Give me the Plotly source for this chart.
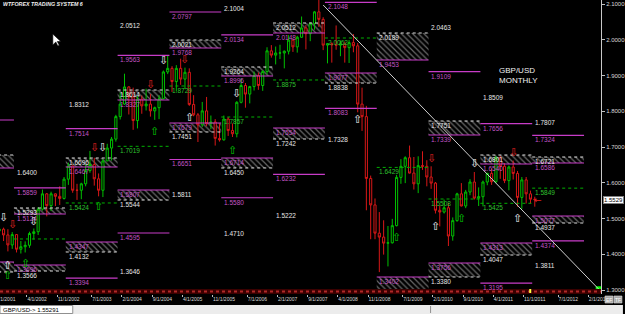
import pandas as pd
import plotly.graph_objects as go

# ---------------- data ----------------
months = [p.strftime("%Y-%m") for p in pd.period_range("2001-09", "2012-01", freq="M")]

opens = [1.4655, 1.4700, 1.4540, 1.4260,
         1.4550, 1.4140, 1.4210, 1.4250, 1.4580, 1.4630, 1.5260, 1.5690, 1.5360, 1.5690, 1.5620, 1.5560,
         1.6100, 1.6470, 1.5790, 1.5790, 1.5970, 1.6340, 1.6510, 1.6110, 1.5790, 1.6610, 1.6970, 1.7220,
         1.7850, 1.8200, 1.8680, 1.8400, 1.7740, 1.8340, 1.8150, 1.8200, 1.8010, 1.8100, 1.8350, 1.9100,
         1.9200, 1.8830, 1.9200, 1.8900, 1.9090, 1.8190, 1.7900, 1.7620, 1.8010, 1.7650, 1.7700, 1.7240,
         1.7200, 1.7780, 1.7460, 1.7370, 1.8250, 1.8720, 1.8480, 1.8690, 1.9000, 1.8720, 1.9110, 1.9690,
         1.9570, 1.9630, 1.9630, 1.9680, 1.9990, 1.9800, 2.0070, 2.0330, 2.0170, 2.0450, 2.0780, 2.0570,
         1.9850, 1.9890, 1.9860, 1.9850, 1.9880, 1.9780, 1.9920, 1.9830, 1.8200, 1.7850, 1.6120, 1.5380,
         1.4590, 1.4480, 1.4310, 1.4320, 1.4800, 1.6150, 1.6460, 1.6700, 1.6270, 1.5970, 1.6480, 1.6460,
         1.6160, 1.5990, 1.5230, 1.5180, 1.5300, 1.4510, 1.4940, 1.5690, 1.5350, 1.5740, 1.6020, 1.5570,
         1.5610, 1.6020, 1.6260, 1.6030, 1.6700, 1.6460, 1.6060, 1.6440, 1.6260, 1.5590, 1.6080, 1.5690,
         1.5540]
highs = [1.4840, 1.4745, 1.4700, 1.4620,
         1.4560, 1.4370, 1.4360, 1.4630, 1.4720, 1.5320, 1.5810, 1.5710, 1.5750, 1.5700, 1.5900, 1.6160,
         1.6560, 1.6480, 1.5970, 1.6000, 1.6500, 1.6890, 1.6700, 1.6260, 1.6660, 1.7090, 1.7280, 1.7900,
         1.8520, 1.9050, 1.8700, 1.8660, 1.8420, 1.8440, 1.8630, 1.8480, 1.8130, 1.8450, 1.9140, 1.9550,
         1.9260, 1.9290, 1.9470, 1.9220, 1.9200, 1.8450, 1.7950, 1.8260, 1.8400, 1.7880, 1.7780, 1.7650,
         1.7880, 1.7840, 1.7660, 1.8280, 1.8920, 1.8790, 1.8710, 1.9110, 1.9080, 1.9150, 1.9790, 1.9850,
         1.9810, 1.9860, 1.9700, 2.0130, 2.0010, 2.0110, 2.0650, 2.0410, 2.0490, 2.0800, 2.1160, 2.0630,
         1.9910, 1.9930, 2.0400, 1.9980, 1.9950, 1.9990, 2.0160, 1.9910, 1.8660, 1.8150, 1.6200, 1.5560,
         1.5180, 1.4950, 1.4790, 1.4990, 1.6220, 1.6660, 1.6740, 1.7040, 1.6720, 1.6740, 1.6880, 1.6630,
         1.6460, 1.6020, 1.5370, 1.5530, 1.5430, 1.5030, 1.5720, 1.5990, 1.5800, 1.6100, 1.6300, 1.5870,
         1.6060, 1.6280, 1.6400, 1.6750, 1.6750, 1.6550, 1.6480, 1.6620, 1.6330, 1.6160, 1.6160, 1.5780,
         1.5610]
lows = [1.4360, 1.4370, 1.4080, 1.4150,
        1.4050, 1.4020, 1.4050, 1.4180, 1.4410, 1.4540, 1.5220, 1.5060, 1.5210, 1.5350, 1.5380, 1.5530,
        1.5940, 1.5720, 1.5520, 1.5540, 1.5900, 1.6280, 1.5920, 1.5620, 1.5600, 1.6610, 1.6620, 1.7150,
        1.7770, 1.8180, 1.7910, 1.7480, 1.7520, 1.7930, 1.8020, 1.7850, 1.7760, 1.7780, 1.8330, 1.9040,
        1.8540, 1.8550, 1.8740, 1.8620, 1.8150, 1.7860, 1.7140, 1.7560, 1.7580, 1.7500, 1.7040, 1.7150,
        1.7180, 1.7310, 1.7280, 1.7270, 1.8220, 1.8100, 1.8220, 1.8580, 1.8600, 1.8570, 1.9030, 1.9500,
        1.9310, 1.9460, 1.9200, 1.9590, 1.9660, 1.9640, 2.0050, 1.9730, 1.9960, 2.0280, 2.0360, 1.9710,
        1.9340, 1.9360, 1.9720, 1.9540, 1.9360, 1.9350, 1.9650, 1.7970, 1.7450, 1.5230, 1.4420, 1.4420,
        1.3500, 1.3990, 1.3660, 1.4300, 1.4780, 1.5970, 1.5990, 1.6260, 1.5810, 1.5710, 1.6360, 1.5900,
        1.5830, 1.5140, 1.4780, 1.5140, 1.4230, 1.4380, 1.4910, 1.5340, 1.5290, 1.5650, 1.5530, 1.5350,
        1.5340, 1.5930, 1.5940, 1.5990, 1.6110, 1.5990, 1.5790, 1.6090, 1.5330, 1.5270, 1.5420, 1.5420,
        1.5330]
closes = [1.4700, 1.4540, 1.4260, 1.4550,
          1.4140, 1.4210, 1.4250, 1.4580, 1.4630, 1.5260, 1.5690, 1.5360, 1.5690, 1.5620, 1.5560, 1.6100,
          1.6470, 1.5790, 1.5790, 1.5970, 1.6340, 1.6510, 1.6110, 1.5790, 1.6610, 1.6970, 1.7220, 1.7850,
          1.8200, 1.8680, 1.8400, 1.7740, 1.8340, 1.8150, 1.8200, 1.8010, 1.8100, 1.8350, 1.9100, 1.9200,
          1.8830, 1.9200, 1.8900, 1.9090, 1.8190, 1.7900, 1.7620, 1.8010, 1.7650, 1.7700, 1.7240, 1.7200,
          1.7780, 1.7460, 1.7370, 1.8250, 1.8720, 1.8480, 1.8690, 1.9000, 1.8720, 1.9110, 1.9690, 1.9570,
          1.9630, 1.9630, 1.9680, 1.9990, 1.9800, 2.0070, 2.0330, 2.0170, 2.0450, 2.0780, 2.0570, 1.9850,
          1.9890, 1.9860, 1.9850, 1.9880, 1.9780, 1.9920, 1.9830, 1.8200, 1.7850, 1.6120, 1.5380, 1.4590,
          1.4480, 1.4310, 1.4320, 1.4800, 1.6150, 1.6460, 1.6700, 1.6270, 1.5970, 1.6480, 1.6460, 1.6160,
          1.5990, 1.5230, 1.5180, 1.5300, 1.4510, 1.4940, 1.5690, 1.5350, 1.5740, 1.6020, 1.5570, 1.5610,
          1.6020, 1.6260, 1.6030, 1.6700, 1.6460, 1.6060, 1.6440, 1.6260, 1.5590, 1.6080, 1.5690, 1.5540,
          1.5529]

# hatched zones per year (R = resistance style, S = support style)
box_year = [2001, 2001, 2002, 2002, 2003, 2003, 2004, 2004, 2005, 2005, 2006, 2006,
            2007, 2007, 2008, 2009, 2009, 2010, 2010, 2011, 2011, 2012, 2012]
box_top = [1.6776, 1.3783, 1.5294, 1.3699, 1.6692, 1.4343, 1.8594, 1.5797, 1.9993, 1.7671, 1.9238, 1.6692,
           2.0469, 1.7531, 1.9070, 2.0189, 1.3364, 1.7727, 1.3755, 1.6776, 1.4315, 1.6720, 1.5070]
box_bot = [1.6413, 1.3503, 1.5126, 1.3531, 1.6441, 1.4063, 1.8315, 1.5517, 1.9769, 1.7420, 1.8986, 1.6413,
           2.0189, 1.7224, 1.8790, 1.9434, 1.2944, 1.7336, 1.3364, 1.6524, 1.3979, 1.6552, 1.4874]
box_kind = ["R", "S", "R", "S", "R", "S", "R", "S", "R", "S", "R", "S",
            "R", "S", "S", "R", "S", "R", "S", "R", "S", "R", "S"]
box_in_text = ["", "", "1.5293", "1.3696", "1.6696", "1.4347", "1.8614", "1.5807", "2.0021", "1.7679",
               "1.9264", "1.6714", "2.0512", "1.7554", "1.9077", "2.0189", "1.3402", "1.7751", "1.3756",
               "1.6801", "1.4313", "1.6721", "1.5077"]
box_below_text = ["", "", "1.5124", "1.3566", "1.6467", "1.4132", "1.8327", "1.5544", "1.9768", "1.7451",
                  "1.8996", "1.6450", "2.0148", "1.7242", "1.8838", "1.9453", "", "1.7339", "1.3380",
                  "1.6540", "1.4047", "1.6586", "1.4937"]

# magenta levels
mag_year = [2001, 2002, 2002, 2003, 2003, 2004, 2004, 2005, 2005, 2006, 2006, 2007,
            2008, 2008, 2010, 2011, 2011, 2012, 2012]
mag_price = [1.7755, 1.5859, 1.3010, 1.7514, 1.3330, 1.9563, 1.4595, 2.0776, 1.6651, 2.0134, 1.5580, 1.6232,
             2.1048, 1.8083, 1.9109, 1.7656, 1.3195, 1.7324, 1.4374]
mag_text = ["", "1.5859", "", "1.7514", "1.3394", "1.9563", "1.4595", "2.0797", "1.6651", "2.0134", "1.5580",
            "1.6232", "2.1048", "1.8083", "1.9109", "1.7656", "1.3195", "1.7324", "1.4374"]

# white levels (labels only)
wl_year = [2002, 2003, 2004, 2004, 2005, 2006, 2006, 2007, 2008, 2010, 2011, 2012, 2012]
wl_price = [1.6400, 1.8312, 2.0512, 1.3646, 1.5811, 2.1004, 1.4710, 1.5222, 1.7328, 2.0463, 1.8509, 1.7807, 1.3811]

# green dotted levels
g_year = [2002, 2003, 2004, 2005, 2006, 2007, 2008, 2009, 2010, 2011, 2012]
g_price = [1.4427, 1.5434, 1.7019, 1.8706, 1.7839, 1.8875, 2.0049, 1.6429, 1.5545, 1.5425, 1.5849]
g_text = ["", "1.5424", "1.7019", "1.8729", "1.7857", "1.8875", "2.0062", "1.6429", "1.5508", "1.5425", "1.5849"]

# signal arrows
arr_month = ["2001-11", "2002-03", "2001-11", "2001-10", "2001-12", "2002-05", "2003-07", "2003-09",
             "2003-08", "2004-09", "2004-11", "2005-04", "2004-08", "2005-05", "2006-04", "2006-03",
             "2008-08", "2009-05", "2010-01", "2010-02", "2010-08", "2010-11", "2011-08", "2011-09"]
arr_price = [1.3699, 1.3755, 1.3392, 1.5042, 1.4846, 1.4930, 1.7000, 1.7000,
             1.5322, 1.7420, 1.9406, 1.9434, 1.8762, 1.7839, 1.8510, 1.6916,
             1.7783, 1.4455, 1.6692, 1.4790, 1.5014, 1.6552, 1.6860, 1.5014]
arr_dir = ["u", "u", "u", "d", "d", "d", "d", "d", "u", "u", "d", "d", "d", "u", "d", "u",
           "u", "u", "d", "u", "u", "d", "d", "u"]
arr_color = ["w", "g", "g", "w", "r", "w", "r", "w", "g", "g", "w", "r", "r", "w", "w", "g",
             "w", "g", "r", "w", "g", "w", "r", "w"]

trend_month = ["2007-12", "2013-04"]
trend_price = [2.0972, 1.3000]

tick_month = ["2002-04", "2002-11", "2003-07", "2004-02", "2004-09", "2005-04", "2005-11", "2006-07",
              "2007-02", "2007-09", "2008-04", "2008-11", "2009-07", "2010-02", "2010-09", "2011-04",
              "2011-11", "2012-07", "2013-02"]
tick_text = ["4/1/2002", "11/1/2002", "7/1/2003", "2/1/2004", "9/1/2004", "4/1/2005", "11/1/2005",
             "7/1/2006", "2/1/2007", "9/1/2007", "4/1/2008", "11/1/2008", "7/1/2009", "2/1/2010",
             "9/1/2010", "4/1/2011", "11/1/2011", "7/1/2012", "2/1/2013"]

current_price = 1.5529
status_text = "GBP/USD-> 1.55291"

# ---------------- geometry helpers ----------------
W, H = 625, 314
MR, MB = 22, 20
PW, PH = W - MR, H - MB
X_RANGE = [-3.23, 135.93]
Y_RANGE = [1.2888, 2.1112]
BAR_OFF = 0.6


def midx(s):
    y, m = s.split("-")
    return (int(y) - 2002) * 12 + int(m) - 1


def ystart(y):
    return (y - 2002) * 12


def px(xp):
    return xp / PW


def py(yp):
    return (PH - yp) / PH


MAG = "#c83cc8"
MAGT = "#c455c4"
GRN = "#00b000"
GRNT = "#2fc02f"
WHT = "#e6e6e6"
FONT = "Liberation Sans"

fig = go.Figure()
shapes = []
ann = []


def lab(x, y, text, color, size=6.5, xanchor="left", yanchor="top", xref="x", yref="y", **kw):
    if not text:
        return
    d = dict(x=x, y=y, xref=xref, yref=yref, text=text, showarrow=False,
             xanchor=xanchor, yanchor=yanchor,
             font=dict(family=FONT, size=size, color=color), borderpad=0)
    d.update(kw)
    ann.append(d)


# hatched boxes
fig.add_trace(go.Bar(
    x=[ystart(y) + 6 for y in box_year],
    y=[t - b for t, b in zip(box_top, box_bot)],
    base=box_bot, width=12,
    marker=dict(color="black", line=dict(width=0),
                pattern=dict(shape="\\", fgcolor="#d0d0d0", bgcolor="black", size=4, solidity=0.3)),
    hoverinfo="skip", showlegend=False))

for yr, t, b, k, ti, tb in zip(box_year, box_top, box_bot, box_kind, box_in_text, box_below_text):
    x0, x1 = ystart(yr), ystart(yr) + 12
    magy = b if k == "R" else t
    doty = t if k == "R" else b
    shapes.append(dict(type="line", xref="x", yref="y", x0=x0, x1=x1, y0=magy, y1=magy,
                       line=dict(color=MAG, width=1.2)))
    shapes.append(dict(type="line", xref="x", yref="y", x0=x0, x1=x1, y0=doty, y1=doty,
                       line=dict(color="#e0e0e0", width=1, dash="dot")))
    lab(x0 + 0.4, t, ti, WHT if k == "R" else MAGT)
    lab(x0 + 0.4, b, tb, MAGT if k == "R" else WHT)

for yr, p, t in zip(mag_year, mag_price, mag_text):
    x0 = ystart(yr)
    shapes.append(dict(type="line", xref="x", yref="y", x0=x0, x1=x0 + 12, y0=p, y1=p,
                       line=dict(color=MAG, width=1.2)))
    lab(x0 + 0.4, p, t, MAGT)

for yr, p in zip(wl_year, wl_price):
    lab(ystart(yr) + 0.4, p, f"{p:.4f}", WHT)

for yr, p, t in zip(g_year, g_price, g_text):
    x0 = ystart(yr)
    shapes.append(dict(type="line", xref="x", yref="y", x0=x0, x1=x0 + 12, y0=p, y1=p,
                       line=dict(color=GRN, width=1, dash="dot")))
    lab(x0 + 0.4, p, t, GRNT)

# candles
fig.add_trace(go.Candlestick(
    x=[midx(m) + BAR_OFF for m in months], open=opens, high=highs, low=lows, close=closes,
    increasing=dict(line=dict(color="#00c000", width=1), fillcolor="black"),
    decreasing=dict(line=dict(color="#d81818", width=1), fillcolor="black"),
    whiskerwidth=0, hoverinfo="skip", showlegend=False))

# trend line
tx = [midx(m) + BAR_OFF for m in trend_month]
shapes.append(dict(type="line", xref="x", yref="y", x0=tx[0], x1=tx[1], y0=trend_price[0], y1=trend_price[1],
                   line=dict(color="#cfcfcf", width=1)))
fig.add_trace(go.Scatter(x=[tx[1] - 0.2], y=[trend_price[1] + 0.002], mode="markers",
                         marker=dict(symbol="square", size=6, color="#00ff00"),
                         hoverinfo="skip", showlegend=False))

# arrows
cmap = {"w": "#f0f0f0", "g": "#00c800", "r": "#e02020"}
for m, p, d, c in zip(arr_month, arr_price, arr_dir, arr_color):
    ann.append(dict(x=midx(m) + BAR_OFF, y=p, xref="x", yref="y", text="⇧" if d == "u" else "⇩",
                    showarrow=False, xanchor="center", yanchor="middle",
                    font=dict(family="DejaVu Sans", size=11, color=cmap[c])))
ann.append(dict(x=midx(months[-1]) + BAR_OFF - 0.6, y=current_price, xref="x", yref="y", text="←",
                showarrow=False, xanchor="left", yanchor="middle",
                font=dict(family="DejaVu Sans", size=9, color="#e02020")))

# bottom red strip (darker, dotted)
shapes.append(dict(type="rect", xref="paper", yref="y", x0=0, x1=1, y0=Y_RANGE[0], y1=1.3028,
                   fillcolor="#3a0000", line=dict(width=0), layer="above"))
shapes.append(dict(type="line", xref="paper", yref="y", x0=0, x1=1, y0=1.2958, y1=1.2958,
                   line=dict(color="#b02828", width=2, dash="dot"), layer="above"))
shapes.append(dict(type="rect", xref="paper", yref="paper", x0=px(531), x1=px(533), y0=py(293), y1=py(289),
                   fillcolor="#ffff40", line=dict(width=0)))

# title
lab(px(2), 1.0, "<b><i>WTFOREX TRADING SYSTEM 6</i></b>", "#f0f0f0", size=5.3, xref="paper", yref="paper")
# symbol text
lab(px(500), py(65), "GBP/USD<br>MONTHLY", "#f0f0f0", size=8, xref="paper", yref="paper", align="left")
# 7/1/2001 partial label
lab(px(17), py(299), "7/1/2001", "#d8d8d8", size=5, xanchor="right", yanchor="middle",
    xref="paper", yref="paper")

# mouse cursor
cur = [(0, 0), (0, 11), (3, 8), (5, 12), (6.5, 11.3), (4.5, 7.5), (8, 7.5)]
path = "M " + " L ".join(f"{px(53 + a):.5f},{py(34 + b):.5f}" for a, b in cur) + " Z"
shapes.append(dict(type="path", xref="paper", yref="paper", path=path, fillcolor="white",
                   line=dict(color="black", width=0.6)))

# current price tag
ann.append(dict(x=1.0, y=current_price, xref="paper", yref="y", text=f"{current_price:.4f}", showarrow=False,
                xanchor="left", yanchor="middle", xshift=2, bgcolor="white",
                bordercolor="#808080", borderwidth=1, borderpad=0,
                font=dict(family=FONT, size=6, color="black")))

# status bar
shapes.append(dict(type="rect", xref="paper", yref="paper", x0=0, x1=W / PW, y0=py(314), y1=py(305),
                   fillcolor="#ececec", line=dict(width=0)))
shapes.append(dict(type="rect", xref="paper", yref="paper", x0=px(0), x1=px(73), y0=py(313.5), y1=py(305.5),
                   fillcolor="white", line=dict(color="#909090", width=1)))
shapes.append(dict(type="line", xref="paper", yref="paper", x0=px(432), x1=px(432), y0=py(313), y1=py(306),
                   line=dict(color="#909090", width=1)))
lab(px(2), py(309.5), status_text, "black", size=6, yanchor="middle", xref="paper", yref="paper")

# EF / TF buttons
for i, t in enumerate(["EF", "TF"]):
    x0 = 607 + i * 9
    shapes.append(dict(type="rect", xref="paper", yref="paper", x0=px(x0), x1=px(x0 + 8),
                       y0=py(303), y1=py(296), fillcolor="#a8a8a8", line=dict(color="#e0e0e0", width=0.6)))
    lab(px(x0 + 4), py(299.5), t, "white", size=5, xanchor="center", yanchor="middle",
        xref="paper", yref="paper")

fig.update_layout(
    width=W, height=H,
    margin=dict(l=0, r=MR, t=0, b=MB, pad=0),
    paper_bgcolor="black", plot_bgcolor="black",
    showlegend=False, barmode="overlay", hovermode=False,
    shapes=shapes, annotations=ann,
    xaxis=dict(range=X_RANGE, rangeslider=dict(visible=False), showgrid=False, zeroline=False,
               tickmode="array", tickvals=[midx(m) for m in tick_month], ticktext=tick_text,
               ticks="outside", ticklen=2, tickcolor="#c0c0c0", ticklabelposition="outside right",
               tickfont=dict(family=FONT, size=5, color="#d8d8d8"), showline=False),
    yaxis=dict(range=Y_RANGE, side="right", showgrid=False, zeroline=False,
               tickmode="linear", tick0=1.3, dtick=0.1, tickformat=".4f",
               ticks="outside", ticklen=3, tickcolor="#c0c0c0",
               showline=True, linecolor="#c8c8c8", linewidth=1,
               tickfont=dict(family=FONT, size=6, color="#d8d8d8")),
)

fig.write_html("out.html")
